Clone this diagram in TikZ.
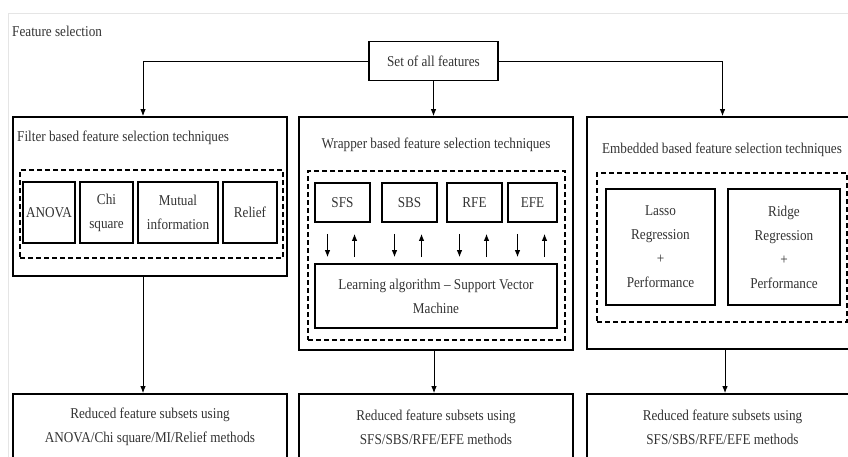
\documentclass[tikz,border=0pt]{standalone}
\usepackage{fontspec}
\setmainfont[FakeStretch=0.88]{Liberation Serif}
\usetikzlibrary{arrows.meta}
\tikzset{
	txt/.style={text=black!80, font=\fontsize{15}{24}\selectfont, inner sep=0pt, align=center},
	box/.style={txt, draw, line width=1.8pt},
	dashbox/.style={draw, line width=1.7pt, dash pattern=on 5pt off 3pt},
	arr/.style={-{Latex[length=7pt,width=5.5pt]}, line width=0.9pt}
}

\begin{document}
\begin{tikzpicture}[x=1pt,y=-1pt]
		%%%%% START %%%%%
		\useasboundingbox (0,0) rectangle (848,456);
		\clip (0,0) rectangle (848,456);
		\draw[line width=0.6pt, color=black!10] (8,470) -- (8,13) -- (860,13);
		
		\node[txt, anchor=west] (figtitle) at (12,31) {Feature selection};
		\node[box, line width=1.4pt, minimum width=129pt, minimum height=39pt] (all) at (433.5,61) {Set of all features};
		
		% three families
		\node[box, minimum width=274pt, minimum height=159pt] (filter) at (150,196.5) {};
		\node[box, minimum width=274pt, minimum height=233pt] (wrapper) at (436,233.5) {};
		\node[box, minimum width=271pt, minimum height=232pt] (embedded) at (722.5,233) {};
		
		\node[txt, anchor=west] (ftitle) at (17,138) {Filter based feature selection techniques};
		\node[txt] (wtitle) at (436,145) {Wrapper based feature selection techniques};
		\node[txt] (etitle) at (722,150) {Embedded based feature selection techniques};
		
		\node[dashbox, minimum width=263pt, minimum height=88pt] (fdash) at (151.5,214) {};
		\node[dashbox, minimum width=257pt, minimum height=169pt] (wdash) at (436.5,255.5) {};
		\node[dashbox, minimum width=250pt, minimum height=149pt] (edash) at (722,247.5) {};
		
		% filter
		\node[box, minimum width=52pt, minimum height=61pt] (anova) at (49,212.5) {ANOVA};
		\node[box, minimum width=53pt, minimum height=61pt] (chi) at (106.5,212.5) {Chi\\square};
		\node[box, minimum width=80pt, minimum height=61pt] (mi) at (178,212.5) {Mutual\\information};
		\node[box, minimum width=54pt, minimum height=61pt] (relief) at (250,212.5) {Relief};
		
		% wrapper
		\node[box, minimum width=55pt, minimum height=39pt] (sfs) at (342.5,202.5) {SFS};
		\node[box, minimum width=55pt, minimum height=39pt] (sbs) at (409.5,202.5) {SBS};
		\node[box, minimum width=55pt, minimum height=39pt] (rfe) at (474.5,202.5) {RFE};
		\node[box, minimum width=49pt, minimum height=39pt] (efe) at (532.5,202.5) {EFE};
		\node[box, minimum width=242pt, minimum height=64pt] (learn) at (436,296) {Learning algorithm -- Support Vector\\Machine};
		
		\foreach \m in {sfs,sbs,rfe,efe}{
			\draw[arr, shorten <=11pt, shorten >=6pt] ([xshift=-15pt]\m.south) -- ([xshift=-15pt]\m.south |- learn.north);
			\draw[arr, shorten <=6pt, shorten >=11pt] ([xshift=12pt]\m.south |- learn.north) -- ([xshift=12pt]\m.south);
		}
		
		% embedded
		\node[box, minimum width=109pt, minimum height=116pt] (lasso) at (660.5,247) {Lasso\\Regression\\+\\Performance};
		\node[box, minimum width=112pt, minimum height=116pt] (ridge) at (784,247) {Ridge\\Regression\\+\\Performance};
		
		% results
		\node[box, minimum width=274pt, minimum height=66pt] (fres) at (150,427) {Reduced feature subsets using\\ANOVA/Chi square/MI/Relief methods};
		\node[box, minimum width=274pt, minimum height=66pt] (wres) at (436,427) {Reduced feature subsets using\\SFS/SBS/RFE/EFE methods};
		\node[box, minimum width=271pt, minimum height=66pt] (eres) at (722.5,427) {Reduced feature subsets using\\SFS/SBS/RFE/EFE methods};
		
		\draw[arr] (all.west) -| ([xshift=-7pt]filter.north);
		\draw[arr] (all.south) -- (all.south |- wrapper.north);
		\draw[arr] (all.east) -| (embedded.north);
		
		\draw[arr] ([xshift=-7pt]filter.south) -- ([xshift=-7pt]fres.north);
		\draw[arr] ([xshift=-2pt]wrapper.south) -- ([xshift=-2pt]wres.north);
		\draw[arr] ([xshift=2.5pt]embedded.south) -- ([xshift=2.5pt]eres.north);
		%%%%% END %%%%%
\end{tikzpicture}
\end{document}
